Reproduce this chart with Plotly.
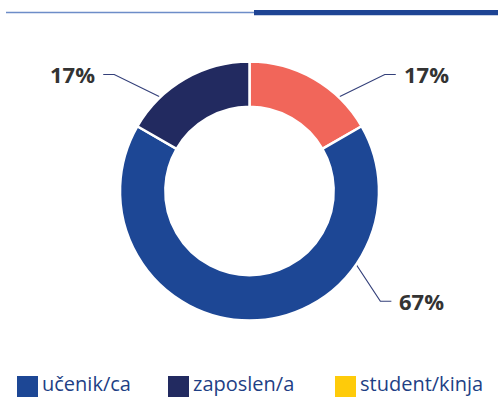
import math
import plotly.graph_objects as go

# Respondent status shares (counts), drawn clockwise from 12 o'clock
slice_labels = ["ostalo", "učenik/ca", "zaposlen/a"]
slice_values = [1, 4, 1]
slice_colors = ["#F1665A", "#1D4795", "#222A60"]

# Legend entries
legend_labels = ["učenik/ca", "zaposlen/a", "student/kinja"]
legend_colors = ["#1D4795", "#222A60", "#FECB0A"]

W, H = 498, 397
CX, CY, R = 249.5, 191.0, 129.5
HOLE = 0.65

# Leader-line placement for each slice: edge angle (deg, clockwise from top),
# elbow offset from the edge point, and direction of the short horizontal tail
label_angles = [43, 124, -43]
elbow_offsets = [(49, -24), (26, 39.5), (-49, -24)]
tail_dirs = [1, 1, -1]
TAIL = 11
GAP = 6


def px(x):
    return x / W


def py(y):
    return 1 - y / H


fig = go.Figure(
    go.Pie(
        labels=slice_labels,
        values=slice_values,
        marker=dict(colors=slice_colors, line=dict(color="white", width=2.5)),
        hole=HOLE,
        sort=False,
        direction="clockwise",
        rotation=0,
        textinfo="none",
        hoverinfo="label+percent",
        showlegend=False,
        domain=dict(x=[px(CX - R), px(CX + R)], y=[py(CY + R), py(CY - R)]),
    )
)

shapes = []
annotations = []
total = sum(slice_values)
for v, ang, (ox, oy), d in zip(slice_values, label_angles, elbow_offsets, tail_dirs):
    a = math.radians(ang)
    x0 = CX + (R - 3) * math.sin(a)
    y0 = CY - (R - 3) * math.cos(a)
    x1, y1 = x0 + ox, y0 + oy
    x2 = x1 + d * TAIL
    path = f"M {px(x0)} {py(y0)} L {px(x1)} {py(y1)} L {px(x2)} {py(y1)}"
    shapes.append(dict(type="path", path=path, xref="paper", yref="paper",
                       line=dict(color="#34407A", width=1.2), layer="below"))
    annotations.append(dict(
        x=px(x2 + d * GAP), y=py(y1), xref="paper", yref="paper",
        text=f"{round(100 * v / total)}%", showarrow=False,
        xanchor="left" if d > 0 else "right", yanchor="middle",
        font=dict(family="Open Sans", size=22, color="#333333", weight="bold"),
    ))

# Header rule: thin light line on the left, heavy bar on the right
shapes.append(dict(type="line", xref="paper", yref="paper",
                   x0=px(6), x1=px(254), y0=py(12.5), y1=py(12.5),
                   line=dict(color="#6D8DC8", width=1.5)))
shapes.append(dict(type="rect", xref="paper", yref="paper",
                   x0=px(254), x1=px(498), y0=py(15.3), y1=py(10),
                   fillcolor="#1E4494", line=dict(width=0)))

# Legend built from swatches and text
legend_x = [17, 168, 335]
for lx, lab, col in zip(legend_x, legend_labels, legend_colors):
    shapes.append(dict(type="rect", xref="paper", yref="paper",
                       x0=px(lx), x1=px(lx + 21), y0=py(397), y1=py(376),
                       fillcolor=col, line=dict(width=0)))
    annotations.append(dict(
        x=px(lx + 24), y=py(383.5), xref="paper", yref="paper",
        text=lab, showarrow=False, xanchor="left", yanchor="middle",
        borderpad=0,
        font=dict(family="Open Sans", size=20, color="#1E3F85"),
    ))

fig.update_layout(
    width=W, height=H,
    margin=dict(l=0, r=0, t=0, b=0),
    paper_bgcolor="white", plot_bgcolor="white",
    shapes=shapes, annotations=annotations,
    showlegend=False,
)

fig.write_html("out.html", config={"displayModeBar": False})
